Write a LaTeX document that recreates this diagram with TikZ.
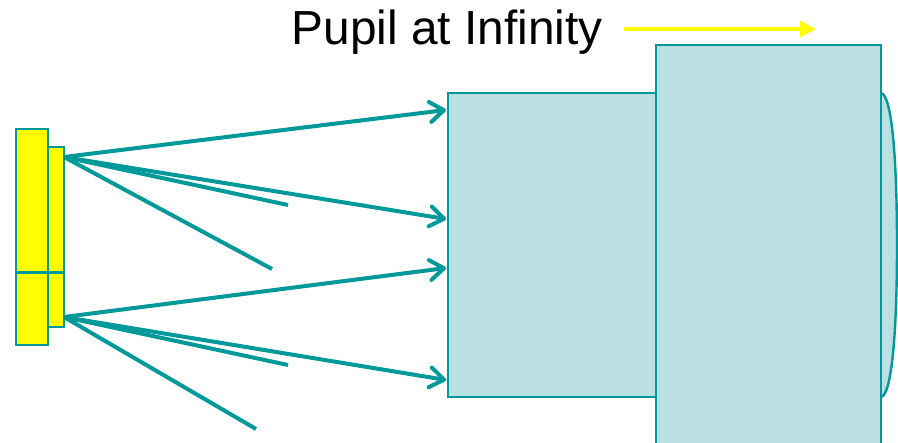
\documentclass[tikz,border=0pt]{standalone}
\usepackage{fontspec}
\setmainfont{Liberation Sans}
\usetikzlibrary{arrows.meta}
\definecolor{teal1}{HTML}{009999}
\definecolor{pale}{HTML}{BAE0E2}
\definecolor{yel}{HTML}{FFFF00}
\tikzset{
  box/.style={draw=teal1,line width=2.4pt,fill=pale,rectangle,inner sep=0pt,outer sep=0pt,anchor=north west},
  ybox/.style={draw=teal1,line width=2.4pt,fill=yel,rectangle,inner sep=0pt,outer sep=0pt,anchor=north west},
  ray/.style={draw=teal1,line width=4pt},
  rayarrow/.style={ray,-{Straight Barb[length=14pt,width=20pt,line width=4pt,round]}}
}
\begin{document}
\begin{tikzpicture}[x=1pt,y=-1pt]
\useasboundingbox (0,0) rectangle (898,443);
\begin{scope}
\clip (0,0) rectangle (898,443);
\draw[draw=teal1,line width=2.4pt,fill=pale] (881,93) .. controls (892,95) and (897,160) .. (897,245) .. controls (897,330) and (892,395) .. (881,397);
\node[box,minimum width=208pt,minimum height=304pt] (tube) at (448,93) {};
\node[box,minimum width=225pt,minimum height=420pt] (pupil) at (656,45) {};
\end{scope}
\node[ybox,minimum width=32pt,minimum height=216pt] (big) at (16,129) {};
\node[ybox,minimum width=16pt,minimum height=180pt] (small) at (48,147) {};
\coordinate (divl) at (16,272.5);
\coordinate (divr) at (64,272.5);
\draw[draw=teal1,line width=2.4pt] (divl) -- (divr);
\coordinate (o1) at (64,157);
\coordinate (o2) at (64,317);
\coordinate (a1) at (446,110);
\coordinate (a2) at (446,219);
\coordinate (a3) at (446,268);
\coordinate (a4) at (446,380);
\coordinate (e1) at (288,205);
\coordinate (e2) at (272,269);
\coordinate (e3) at (288,365);
\coordinate (e4) at (256,429);
\draw[rayarrow] (o1) -- (a1);
\draw[rayarrow] (o1) -- (a2);
\draw[rayarrow] (o2) -- (a3);
\draw[rayarrow] (o2) -- (a4);
\draw[ray] (o1) -- (e1);
\draw[ray] (o1) -- (e2);
\draw[ray] (o2) -- (e3);
\draw[ray] (o2) -- (e4);
\node[inner sep=0pt,anchor=base west,font=\fontsize{47.8pt}{50pt}\selectfont] (title) at (291.5,44.5) {Pupil at Infinity};
\coordinate (ys) at (624,29);
\coordinate (ye) at (816,29);
\draw[draw=yel,line width=3.2pt,-{Triangle[length=16pt,width=16pt]}] (ys) -- (ye);
\end{tikzpicture}
\end{document}
